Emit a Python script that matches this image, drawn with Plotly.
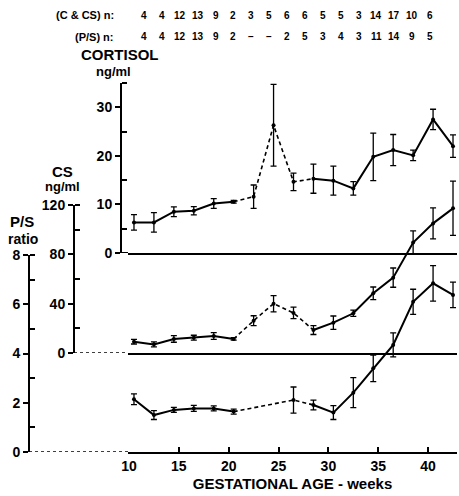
import plotly.graph_objects as go

# ---------------- data ----------------
weeks = [10.5, 12.5, 14.5, 16.5, 18.5, 20.5, 22.5, 24.5, 26.5, 28.5,
         30.5, 32.5, 34.5, 36.5, 38.5, 40.5, 42.5]
cortisol = [6.3, 6.3, 8.5, 8.7, 10.2, 10.55, 11.6, 26.3, 14.65, 15.3,
            14.9, 13.3, 19.8, 21.2, 20.1, 27.5, 22.0]
cortisol_err = [1.6, 2.0, 1.0, 0.85, 1.0, 0.3, 2.4, 8.4, 1.8, 3.0,
                3.0, 1.4, 4.9, 3.2, 1.1, 2.1, 2.3]
cs = [9.2, 7.0, 11.4, 12.4, 13.8, 11.4, 26.2, 40.0, 32.5, 18.6,
      24.6, 32.2, 48.4, 61.1, 89.5, 105.1, 117.3]
cs_err = [1.9, 2.0, 2.7, 2.0, 2.7, 1.0, 4.0, 6.6, 4.7, 3.6,
          5.4, 2.5, 5.1, 7.8, 9.5, 12.6, 22.0]
ps = [2.14, 1.50, 1.71, 1.77, 1.77, 1.64, None, None, 2.11, 1.91,
      1.60, 2.41, 3.40, 4.35, 6.10, 6.85, 6.38]
ps_err = [0.22, 0.18, 0.10, 0.12, 0.10, 0.10, None, None, 0.53, 0.20,
          0.28, 0.61, 0.54, 0.49, 0.51, 0.72, 0.52]
n_c_cs = ['4', '4', '12', '13', '9', '2', '3', '5', '6', '6', '5', '5', '3', '14', '17', '10', '6']
n_ps = ['4', '4', '12', '13', '9', '2', '–', '–', '2', '5', '3', '4', '3', '11', '14', '9', '5']
x_ticks = [10, 15, 20, 25, 30, 35, 40]

# ---------------- layout helpers ----------------
W, H = 459, 496
FONT = "Liberation Sans, Arial, sans-serif"
DASH_FROM, DASH_TO = 5, 9   # dashed segment between these indices


def px(x):
    return x / W


def py(y):
    return 1 - y / H


def solid_part(vals):
    return [v if (i <= DASH_FROM or i >= DASH_TO) else None for i, v in enumerate(vals)]


def dashed_part(vals):
    return [v if DASH_FROM <= i <= DASH_TO else None for i, v in enumerate(vals)]


fig = go.Figure()


def add_series(vals, errs, xa, ya):
    fig.add_trace(go.Scatter(x=weeks, y=solid_part(vals), mode="lines",
                             line=dict(color="black", width=2),
                             xaxis=xa, yaxis=ya, hoverinfo="skip", cliponaxis=False))
    fig.add_trace(go.Scatter(x=weeks, y=dashed_part(vals), mode="lines", connectgaps=True,
                             line=dict(color="black", width=1.6, dash="4px,3px"),
                             xaxis=xa, yaxis=ya, hoverinfo="skip", cliponaxis=False))
    fig.add_trace(go.Scatter(x=weeks, y=vals, mode="markers",
                             marker=dict(color="black", size=4),
                             error_y=dict(type="data", array=errs, color="black",
                                          thickness=1.3, width=3),
                             xaxis=xa, yaxis=ya, cliponaxis=False))


# CS data are drawn on a hidden axis (y4) with the same scale as the visible CS axis (y2)
# but a taller domain, so the last error bar can rise above 120 like in the original.
CS_BASE, CS_TOP, CS_DATA_TOP = 353, 205, 165
cs_scale = 120 / (CS_BASE - CS_TOP)

add_series(cortisol, cortisol_err, "x2", "y")
add_series(cs, cs_err, "x3", "y4")
add_series(ps, ps_err, "x", "y3")

xdom = [px(128), px(457)]
xrange = [9.9, 42.9]
tickfont = dict(family=FONT, size=14, color="black", weight="bold")

common_x = dict(domain=xdom, range=xrange, showgrid=False, zeroline=False,
                showline=True, linecolor="black", linewidth=2, automargin=False)

fig.update_layout(
    width=W, height=H,
    margin=dict(l=0, r=0, t=0, b=0),
    template="none",
    paper_bgcolor="white", plot_bgcolor="rgba(0,0,0,0)",
    showlegend=False,
    xaxis=dict(**common_x, anchor="y3", tickmode="array", tickvals=x_ticks,
               ticks="inside", ticklen=5, tickwidth=1.5, tickcolor="black",
               tickfont=tickfont,
               title=dict(text="GESTATIONAL AGE - weeks", standoff=6,
                          font=dict(family=FONT, size=15, color="black", weight="bold"))),
    xaxis2=dict(**common_x, anchor="y", showticklabels=False, ticks=""),
    xaxis3=dict(**common_x, anchor="y2", showticklabels=False, ticks=""),
)


def yaxis(domain, rng, pos, tickvals, ticktext, minorvals):
    return dict(domain=domain, range=rng, anchor="free", position=pos,
                showgrid=False, zeroline=False, showline=True, linecolor="black",
                linewidth=2, automargin=False,
                tickmode="array", tickvals=tickvals, ticktext=ticktext,
                ticks="outside", ticklen=5, tickwidth=1.5, tickcolor="black",
                tickfont=tickfont,
                minor=dict(tickmode="array", tickvals=minorvals, ticks="inside",
                           ticklen=5, tickwidth=1.5, tickcolor="black", showgrid=False))


fig.update_layout(
    yaxis=yaxis([py(253), py(83)], [0, 35], px(121), [0, 10, 20, 30],
                ["0", "10", "20", "30"], [5, 15, 25, 35]),
    yaxis2=yaxis([py(CS_BASE), py(CS_TOP)], [0, 120], px(74), [0, 40, 80, 120],
                 ["0", "40", "80", "120"], [20, 60, 100, 120]),
    yaxis3=yaxis([py(452), py(255)], [0, 8], px(29), [0, 2, 4, 6, 8],
                 ["0", "2", "4", "6", "8"], [1, 3, 5, 7, 8]),
    yaxis4=dict(domain=[py(CS_BASE), py(CS_DATA_TOP)],
                range=[0, (CS_BASE - CS_DATA_TOP) * cs_scale],
                anchor="x3", visible=False, showgrid=False, zeroline=False),
)

# dotted connectors from the offset axes to the baseline
fig.add_shape(type="line", xref="paper", yref="y3", x0=px(29), x1=xdom[0], y0=0, y1=0,
              line=dict(color="black", width=1.5, dash="dot"))
fig.add_shape(type="line", xref="paper", yref="y2", x0=px(74), x1=xdom[0], y0=0, y1=0,
              line=dict(color="black", width=1.5, dash="dot"))
fig.add_shape(type="line", xref="paper", yref="y", x0=px(121), x1=xdom[0], y0=0, y1=0,
              line=dict(color="black", width=2))


def label(text, x, y, size, xanchor="center"):
    fig.add_annotation(text=text, x=px(x), y=py(y), xref="paper", yref="paper",
                       xanchor=xanchor, yanchor="middle", showarrow=False,
                       font=dict(family=FONT, size=size, color="black", weight="bold"))


label("CORTISOL", 120, 55, 15)
label("ng/ml", 113, 72, 13)
label("CS", 62, 171, 15)
label("ng/ml", 62, 186, 13)
label("P/S", 22, 222, 15)
label("ratio", 23, 239, 14)

label("(C & CS) n:", 116, 15, 11, xanchor="right")
label("(P/S) n:", 116, 37, 11, xanchor="right")
step = (430 - 144) / (len(n_c_cs) - 1)
for i, (a, b) in enumerate(zip(n_c_cs, n_ps)):
    label(a, 144 + i * step, 15, 10)
    label(b, 144 + i * step, 37, 10)

fig.write_html("out.html")
